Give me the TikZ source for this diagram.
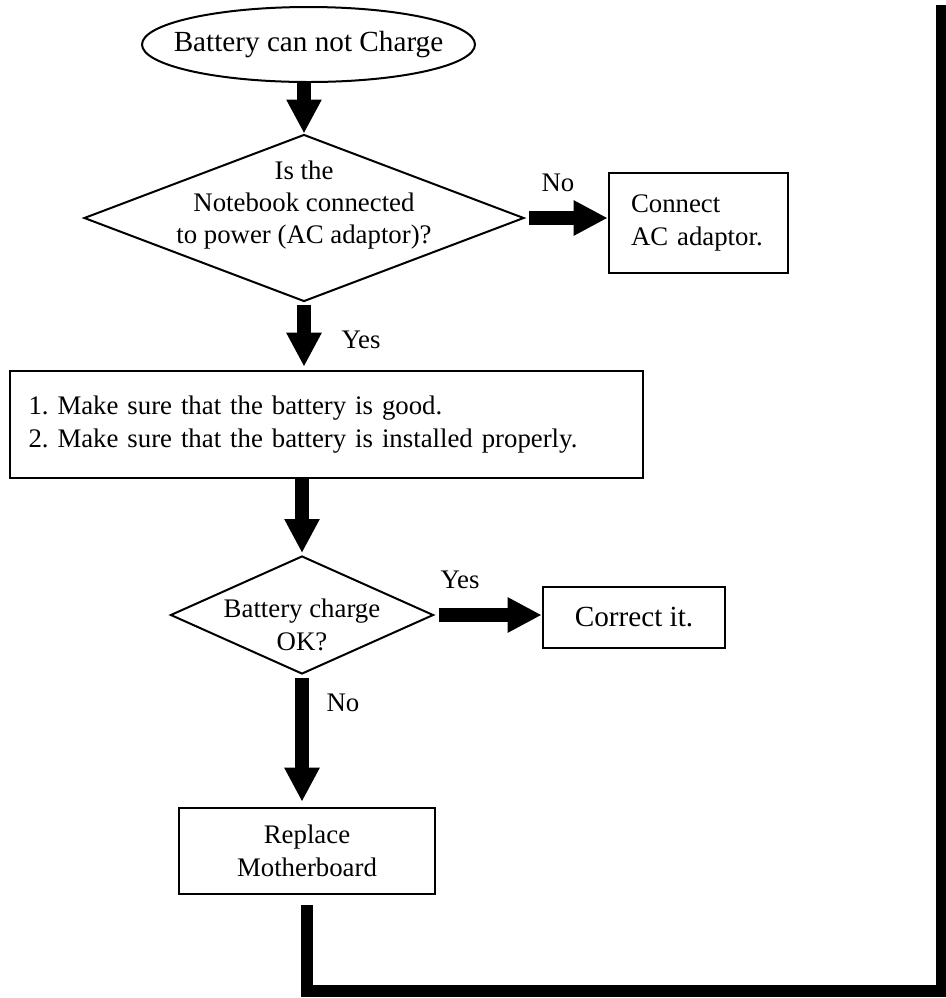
\documentclass[tikz,border=0pt]{standalone}
\usepackage{fontspec}
\setmainfont{Liberation Serif}
\usetikzlibrary{positioning,arrows.meta,shapes.geometric}
\frenchspacing
\newcommand{\bodysize}{\fontsize{13.4pt}{16.2pt}\selectfont}
\newcommand{\bigsize}{\fontsize{14.6pt}{17pt}\selectfont}
\tikzset{
  terminal/.style={draw, ellipse, line width=1pt, minimum width=166.5pt, minimum height=37.5pt, inner xsep=-10pt, inner ysep=0pt, font=\bigsize},
  box/.style={draw, line width=1.3pt, inner ysep=0pt, font=\bodysize},
  decision/.style={draw, diamond, line width=1pt, inner sep=0pt},
  qtext/.style={align=center, font=\bodysize, inner sep=0pt},
  flow/.style={-{Triangle[length=17pt, width=16.5pt]}, line width=7pt},
  backline/.style={line width=6pt},
  lbl/.style={font=\bodysize, inner sep=0pt}
}
\begin{document}
\begin{tikzpicture}[x=0.5pt, y=-0.5pt]
  \useasboundingbox (0,0) rectangle (946,998);
  \node[terminal] (start) at (308.5,44.5) {Battery can not Charge};
  \node[decision, minimum width=220pt, minimum height=83.5pt] (q1) at (304,218) {};
  \node[qtext] (q1txt) at (304,205) {Is the\\Notebook connected\\to power (AC adaptor)?};
  \node[box, minimum width=89.5pt, minimum height=50pt, text width=67.5pt, inner xsep=11pt, align=left] (acfix) at (698.5,223) {Connect\\AC adaptor.};
  \node[box, minimum width=316.5pt, minimum height=53.5pt, text width=298pt, inner xsep=9pt, align=left] (check) at (326.5,424.5) {1. Make sure that the battery is good.\\2. Make sure that the battery is installed properly.};
  \node[decision, minimum width=131.5pt, minimum height=59pt] (q2) at (302,615) {};
  \node[qtext] (q2txt) at (302,625) {Battery charge\\OK?};
  \node[box, minimum width=91pt, minimum height=30.5pt, font=\bigsize] (correct) at (634,617.5) {Correct it.};
  \node[box, minimum width=128pt, minimum height=43pt, align=center] (mboard) at (307,851) {Replace\\Motherboard};
  \coordinate (turn) at (942,991);
  \coordinate (top) at (942,5);
  \node[lbl] (no1) at (558,183) {No};
  \node[lbl] (yes1) at (361,340) {Yes};
  \node[lbl] (yes2) at (460,580) {Yes};
  \node[lbl] (no2) at (343,703) {No};
  \draw[flow] (start.south -| q1.north) -- (q1.north);
  \draw[flow, shorten <=1pt, shorten >=1.5pt] (q1.south) -- (q1.south |- check.north);
  \draw[flow, shorten <=2pt] (q1.east) -- (q1.east -| acfix.west);
  \draw[flow, shorten >=1pt] (check.south -| q2.north) -- (q2.north);
  \draw[flow, shorten <=2pt] (q2.east) -- (q2.east -| correct.west);
  \draw[flow, shorten <=1.5pt, shorten >=2.5pt] (q2.south) -- (q2.south |- mboard.north);
  \draw[backline, shorten <=5pt] (mboard.south) |- (turn) -- (top);
\end{tikzpicture}
\end{document}
